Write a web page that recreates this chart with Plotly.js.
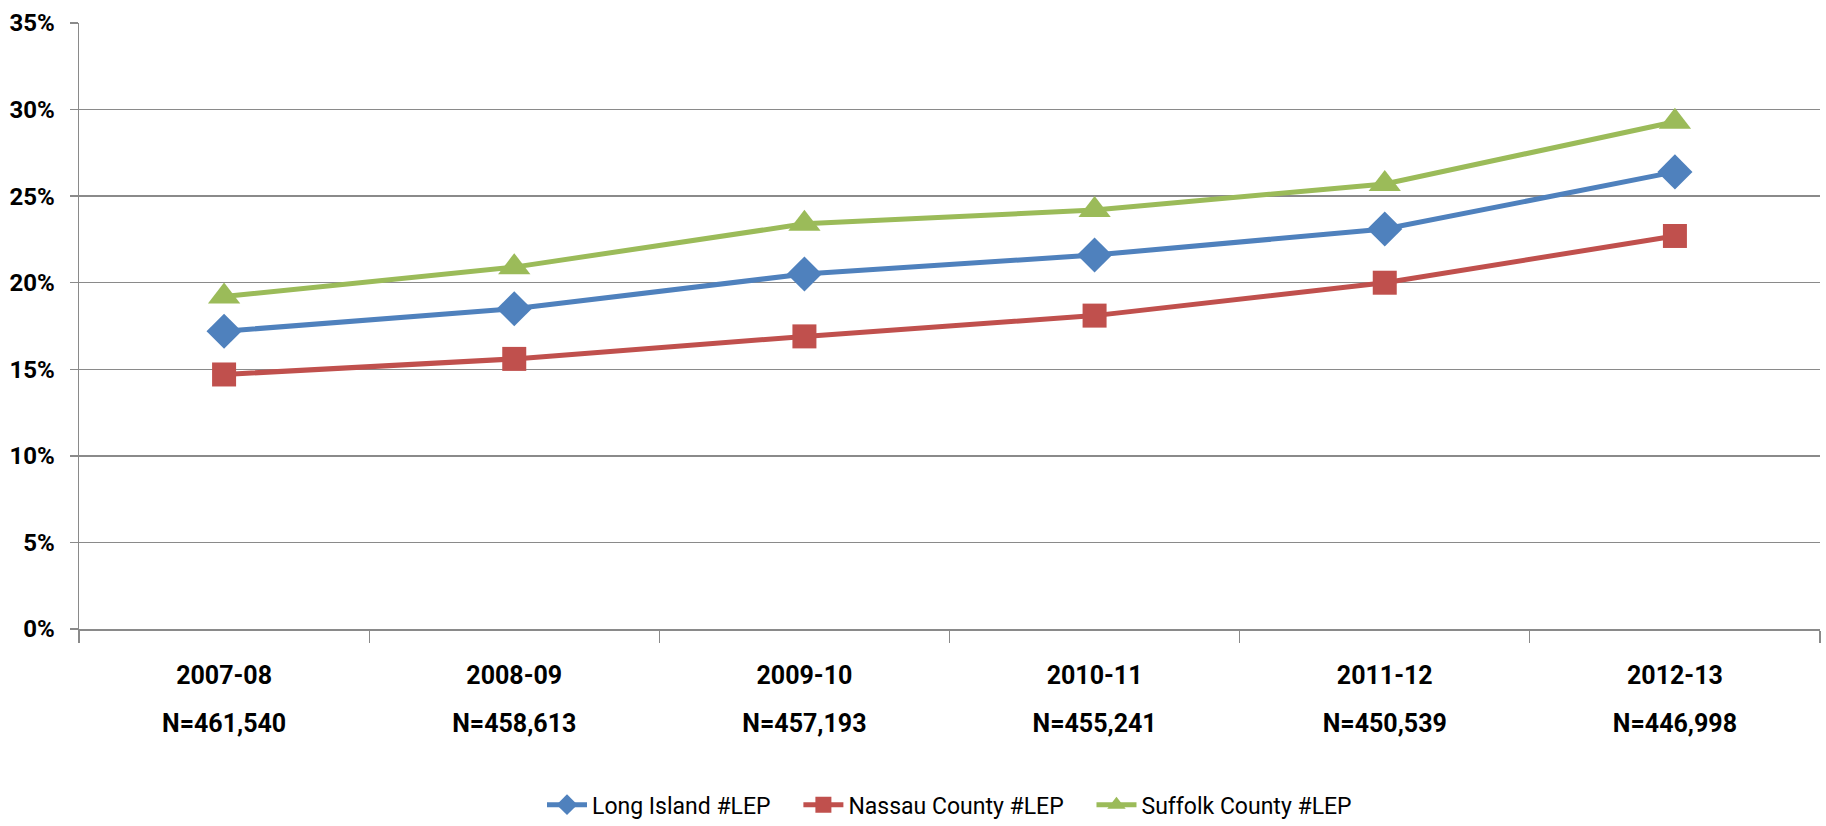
<!DOCTYPE html>
<html>
<head>
<meta charset="utf-8">
<script src="https://cdn.plot.ly/plotly-3.0.1.min.js"></script>
<style>html,body{margin:0;padding:0;background:#fff;}#chart{width:1826px;height:826px;}</style>
</head>
<body>
<div id="chart"></div>
<script>
const years = ["2007-08", "2008-09", "2009-10", "2010-11", "2011-12", "2012-13"];
const nLabels = ["N=461,540", "N=458,613", "N=457,193", "N=455,241", "N=450,539", "N=446,998"];
const seriesNames = ["Long Island #LEP", "Nassau County #LEP", "Suffolk County #LEP"];
const longIsland = [17.2, 18.5, 20.5, 21.6, 23.1, 26.4];
const nassau = [14.7, 15.6, 16.9, 18.1, 20.0, 22.7];
const suffolk = [19.2, 20.9, 23.4, 24.2, 25.7, 29.3];

const FONT = "Roboto, Liberation Sans, sans-serif";
const gridCol = "#8a8a8a";
const PAD = "\u00A0\u00A0\u00A0\u00A0";

function series(name, y, color, symbol, size) {
  return {
    type: "scatter", mode: "lines+markers", name: name,
    x: years, y: y, xaxis: "x", yaxis: "y",
    line: {color: color, width: 5},
    marker: {color: color, symbol: symbol, size: size, line: {width: 0}}
  };
}

const data = [
  series(seriesNames[0] + PAD, longIsland, "#4F81BD", "diamond", 27),
  series(seriesNames[1] + PAD, nassau, "#C0504D", "square", 24),
  series(seriesNames[2], suffolk, "#9BBB59", "triangle-up", 28),
  {type: "scatter", mode: "markers", x: nLabels, y: nLabels.map(() => null),
   xaxis: "x2", yaxis: "y", showlegend: false, hoverinfo: "skip", marker: {opacity: 0}}
];

const tf = (size, bold) => ({family: FONT, size: size, weight: bold ? "bold" : "normal", color: "#000"});

const layout = {
  width: 1826, height: 826,
  margin: {l: 79, r: 6, t: 23, b: 197, autoexpand: false},
  paper_bgcolor: "#fff", plot_bgcolor: "#fff",
  font: {family: FONT, color: "#000"},
  showlegend: true,
  legend: {
    orientation: "h", x: 0.5, xanchor: "center", y: -0.29, yanchor: "middle",
    font: tf(23, false),
    itemwidth: 40, traceorder: "normal"
  },
  xaxis: {
    type: "category", range: [-0.5, 5.5], automargin: false,
    showline: true, linecolor: gridCol, linewidth: 1.5,
    showgrid: false, zeroline: false,
    ticks: "outside", tickson: "boundaries", ticklen: 12, tickcolor: gridCol, tickwidth: 1.2,
    tickfont: tf(25, true),
    ticklabelstandoff: 23
  },
  xaxis2: {
    type: "category", range: [-0.5, 5.5], overlaying: "x", anchor: "y", side: "bottom", automargin: false,
    showline: false, showgrid: false, zeroline: false, ticks: "",
    tickfont: tf(25, true),
    ticklabelstandoff: 77
  },
  yaxis: {
    range: [0, 35], dtick: 5, tick0: 0, ticksuffix: "%", automargin: false,
    showline: true, linecolor: gridCol, linewidth: 1.5,
    showgrid: true, gridcolor: gridCol, gridwidth: 1.5, zeroline: false,
    ticks: "outside", ticklen: 8, tickcolor: gridCol, tickwidth: 1.5,
    tickfont: tf(24, true),
    ticklabelstandoff: 10
  }
};

Plotly.newPlot("chart", data, layout, {displayModeBar: false, staticPlot: true});
</script>
</body>
</html>
